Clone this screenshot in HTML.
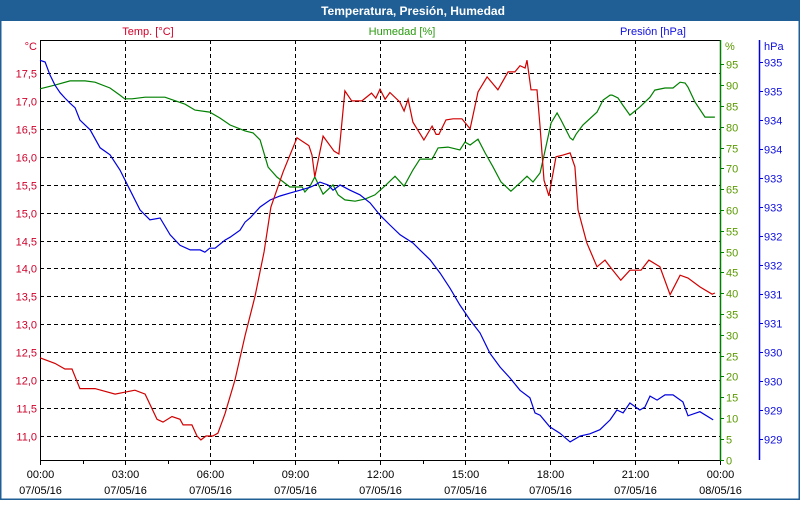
<!DOCTYPE html>
<html><head><meta charset="utf-8"><style>
body{margin:0;width:800px;height:500px;overflow:hidden;background:#fff;font-family:"Liberation Sans",sans-serif}
#wrap{position:absolute;left:0;top:0;width:800px;height:500px}
</style></head><body>
<div id="wrap">
<svg id="chart" width="800" height="500" xmlns="http://www.w3.org/2000/svg" font-family="Liberation Sans, sans-serif" font-size="11">
<rect x="0" y="0" width="800" height="500" fill="#fff"/>
<rect x="0" y="0" width="800" height="21" fill="#1f5f96"/>
<text x="413" y="15" text-anchor="middle" fill="#fff" font-weight="bold" font-size="12">Temperatura, Presión, Humedad</text>
<rect x="0.5" y="20" width="799" height="479.5" fill="none" stroke="#1f5f96" stroke-width="2"/>
<text x="148" y="35" text-anchor="middle" fill="#d0002a">Temp. [°C]</text>
<text x="402" y="35" text-anchor="middle" fill="#2a9a10">Humedad [%]</text>
<text x="686" y="35" text-anchor="end" fill="#1010e0">Presión [hPa]</text>
<text x="37" y="50" text-anchor="end" fill="#d0002a">°C</text>
<text x="725" y="50" fill="#5a9a00">%</text>
<text x="764" y="50" fill="#1010e0">hPa</text>
<g id="grid"></g><g id="axes"></g><g id="series"></g>
</svg></div>
<script>
const tempTicks=[11,11.5,12,12.5,13,13.5,14,14.5,15,15.5,16,16.5,17,17.5];
const tempLabels=["11,0","11,5","12,0","12,5","13,0","13,5","14,0","14,5","15,0","15,5","16,0","16,5","17,0","17,5"];
const humTicks=[0,5,10,15,20,25,30,35,40,45,50,55,60,65,70,75,80,85,90,95];
const presTicks=[935,934.5,934,933.5,933,932.5,932,931.5,931,930.5,930,929.5,929,928.5];
const presLabels=["935","935","934","934","933","933","932","932","931","931","930","930","929","929"];
const timeTicks=[0,3,6,9,12,15,18,21,24];
const timeLabels=["00:00","03:00","06:00","09:00","12:00","15:00","18:00","21:00","00:00"];
const dateLabels=["07/05/16","07/05/16","07/05/16","07/05/16","07/05/16","07/05/16","07/05/16","07/05/16","08/05/16"];
const tempHours=[0,0.53,0.88,1.13,1.41,1.94,2.65,3.35,3.71,4.13,4.34,4.66,4.94,5.05,5.36,5.54,5.68,5.86,6.1,6.28,6.53,6.88,7.24,7.59,7.91,8.15,8.58,9.07,9.49,9.6,9.7,9.99,10.38,10.55,10.76,11.0,11.36,11.7,11.85,12.0,12.18,12.35,12.7,12.85,12.99,13.16,13.55,13.84,13.98,14.08,14.33,14.58,14.89,15.18,15.46,15.78,16.16,16.52,16.76,16.94,17.12,17.19,17.33,17.54,17.65,17.79,17.96,18.21,18.46,18.71,18.88,18.99,19.3,19.66,19.94,20.15,20.5,20.82,21.21,21.49,21.88,22.24,22.59,22.87,23.29,23.72,23.82];
const tempValues=[12.4,12.3,12.2,12.2,11.85,11.85,11.75,11.82,11.75,11.3,11.25,11.35,11.3,11.2,11.2,11.0,10.93,11.0,11.0,11.05,11.4,12.0,12.8,13.5,14.3,15.1,15.73,16.34,16.2,16.03,15.64,16.37,16.1,16.05,17.18,17.0,17.0,17.14,17.05,17.21,17.03,17.15,16.98,16.82,17.03,16.62,16.3,16.55,16.4,16.4,16.66,16.68,16.68,16.5,17.16,17.43,17.2,17.52,17.52,17.63,17.59,17.73,17.2,17.2,16.53,15.58,15.3,16.0,16.03,16.07,15.82,15.05,14.46,14.03,14.15,14.01,13.79,13.97,13.97,14.15,14.03,13.53,13.88,13.83,13.67,13.54,13.56];
const humHours=[0,0.53,1.06,1.59,1.94,2.47,2.82,2.99,3.25,3.71,4.41,5.12,5.47,5.99,6.35,6.71,7.24,7.52,7.77,8.05,8.36,8.82,9.25,9.35,9.53,9.7,9.99,10.34,10.52,10.76,11.12,11.47,11.82,12.21,12.53,12.85,13.16,13.41,13.84,14.05,14.4,14.82,15.0,15.18,15.46,15.71,15.99,16.27,16.62,16.94,17.19,17.4,17.65,17.83,18.04,18.25,18.39,18.71,18.81,18.92,19.16,19.66,19.87,20.12,20.19,20.4,20.57,20.82,21.17,21.53,21.7,22.06,22.34,22.59,22.77,22.87,23.12,23.47,23.72,23.82];
const humValues=[89.1,90.0,91.0,91.0,90.7,89.3,87.6,86.7,86.7,87.1,87.1,85.4,84.0,83.5,82.1,80.4,79.0,78.5,76.8,70.3,67.9,65.5,65.5,64.3,65.7,67.9,63.8,66.0,63.6,62.4,62.1,62.6,63.6,66.0,68.1,65.7,69.6,72.2,72.2,74.9,75.1,74.4,76.3,75.6,77.0,73.7,70.3,66.7,64.5,66.5,68.1,66.7,68.9,74.4,80.9,83.3,81.6,77.3,76.8,78.2,80.4,83.5,86.4,87.6,87.6,86.9,85.2,82.8,84.7,87.1,88.8,89.3,89.3,90.7,90.5,89.5,85.9,82.3,82.3,83.5][0]!==undefined?[89.1,90.0,91.0,91.0,90.7,89.3,87.6,86.7,86.7,87.1,87.1,85.4,84.0,83.5,82.1,80.4,79.0,78.5,76.8,70.3,67.9,65.5,65.5,64.3,65.7,67.9,63.8,66.0,63.6,62.4,62.1,62.6,63.6,66.0,68.1,65.7,69.6,72.2,72.2,74.9,75.1,74.4,76.3,75.6,77.0,73.7,70.3,66.7,64.5,66.5,68.1,66.7,68.9,74.4,80.9,83.3,81.6,77.3,76.8,78.2,80.4,83.5,86.4,87.6,87.6,86.9,85.2,82.8,84.7,87.1,88.8,89.3,89.3,90.7,90.5,89.5,85.9,82.3,82.3,82.3,83.5,83.0]:[];
const presHours=[0,0.18,0.35,0.53,0.71,0.88,1.06,1.24,1.41,1.77,2.12,2.47,2.82,3.18,3.53,3.88,4.24,4.59,4.94,5.3,5.65,5.82,5.99,6.18,6.53,6.71,7.06,7.24,7.41,7.77,8.12,8.47,8.82,9.18,9.53,9.71,9.88,10.17,10.34,10.59,10.94,11.29,11.65,12.0,12.35,12.71,13.16,13.41,13.77,14.12,14.47,14.82,15.18,15.53,15.88,16.24,16.59,16.94,17.29,17.47,17.65,17.99,18.35,18.71,19.06,19.41,19.76,20.12,20.36,20.58,20.82,21.17,21.35,21.53,21.78,22.06,22.34,22.69,22.87,23.29,23.76];
const presValues=[935.03,935.0,934.78,934.6,934.47,934.38,934.29,934.21,934.0,933.83,933.52,933.4,933.14,932.79,932.45,932.28,932.31,932.02,931.84,931.76,931.76,931.72,931.79,931.79,931.93,931.98,932.1,932.24,932.31,932.5,932.62,932.69,932.74,932.79,932.84,932.88,932.93,932.88,932.79,932.88,932.79,932.71,932.57,932.36,932.19,932.02,931.88,931.76,931.59,931.36,931.1,930.81,930.55,930.33,929.98,929.74,929.55,929.34,929.21,928.95,928.91,928.71,928.6,928.45,928.55,928.59,928.66,928.83,929.0,928.95,929.12,929.0,929.05,929.24,929.17,929.26,929.26,929.14,928.9,928.97,928.83];

const NS="http://www.w3.org/2000/svg";
const L=40,R=720,T=40,B=460;
const xS=h=>L+h/24*(R-L);
const yT=v=>73+(17.5-v)*55.85;
const yH=v=>459.5-v*4.16;
const yP=v=>62+(935-v)/0.5*29;
function mk(tag,attrs,parent,txt){const e=document.createElementNS(NS,tag);for(const k in attrs)e.setAttribute(k,attrs[k]);if(txt!==undefined)e.textContent=txt;parent.appendChild(e);return e;}
const grid=document.getElementById('grid'),axes=document.getElementById('axes'),ser=document.getElementById('series');

tempTicks.forEach((v,i)=>{const y=Math.round(yT(v))+0.5;
 const g=mk('line',{x1:L,x2:R,y1:y,y2:y,stroke:'#000','stroke-dasharray':'4,3'},grid);
 
 
 const t=mk('text',{x:37,y:y+4,'text-anchor':'end',fill:'#d0002a'},axes,tempLabels[i]);
 
 
});
timeTicks.forEach((h,i)=>{const x=Math.round(xS(h))+0.5;
 if(i>0&&i<timeTicks.length-1){const g=mk('line',{x1:x,x2:x,y1:T,y2:B,stroke:'#000','stroke-dasharray':'4,3'},grid);
 
 }
 mk('line',{x1:x,x2:x,y1:B,y2:B+5,stroke:'#000'},axes);
 if(i<timeTicks.length-1){const xm=Math.round(xS(h+1.5))+0.5;mk('line',{x1:xm,x2:xm,y1:B,y2:B+4,stroke:'#000'},axes);}
 const t=mk('text',{x:x,y:478,'text-anchor':'middle',fill:'#000'},axes,timeLabels[i]);
 
 
 const d=mk('text',{x:x,y:494,'text-anchor':'middle',fill:'#000'},axes,dateLabels[i]);
 
 
});
mk('line',{x1:L+0.5,x2:L+0.5,y1:T,y2:B,stroke:'#000'},axes);
mk('line',{x1:L,x2:R,y1:T+0.5,y2:T+0.5,stroke:'#000'},axes);
mk('line',{x1:L,x2:R,y1:B+0.5,y2:B+0.5,stroke:'#000'},axes);
mk('line',{x1:R+0.5,x2:R+0.5,y1:T,y2:B,stroke:'#008000','stroke-width':1.5},axes);
humTicks.forEach(v=>{const y=Math.round(yH(v))+0.5;
 mk('line',{x1:R,x2:R+4,y1:y,y2:y,stroke:'#008000'},axes);
 const t=mk('text',{x:726,y:y+4,fill:'#5a9a00'},axes,String(v));
 
 
});
mk('line',{x1:759.5,x2:759.5,y1:T,y2:B,stroke:'#0000e0','stroke-width':1.5},axes);
presTicks.forEach((v,i)=>{const y=Math.round(yP(v))+0.5;
 mk('line',{x1:759,x2:763,y1:y,y2:y,stroke:'#0000e0'},axes);
 const t=mk('text',{x:764,y:y+4,fill:'#1010e0'},axes,presLabels[i]);
 
 
});
function line(hs,vs,yf,color,name){const pts=hs.map((h,i)=>xS(h).toFixed(1)+','+yf(vs[i]).toFixed(1)).join(' ');
 const p=mk('polyline',{points:pts,fill:'none',stroke:color,'stroke-width':1.2},ser);
 
 }
line(humHours,humValues.slice(0,humHours.length),yH,'#008000','humidity-line');
line(presHours,presValues,yP,'#0000e0','pressure-line');
line(tempHours,tempValues,yT,'#d00000','temperature-line');
</script>
</body></html>
